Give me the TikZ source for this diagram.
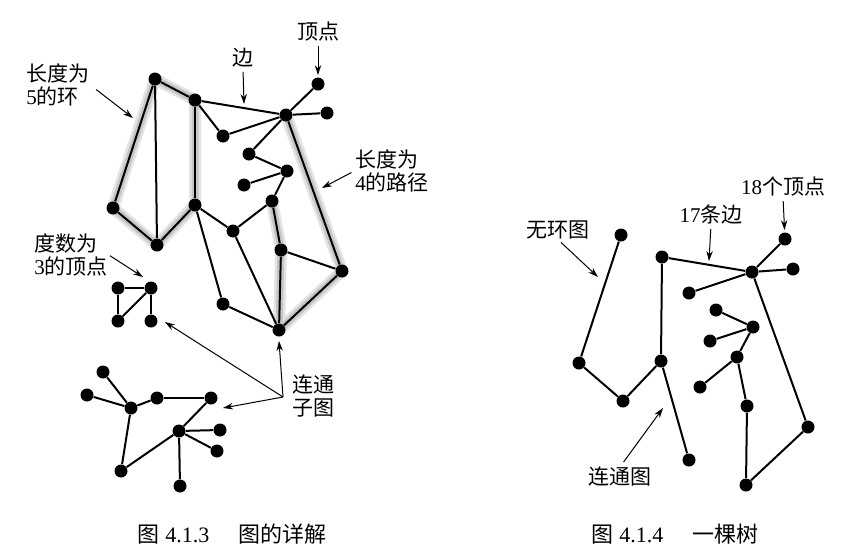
\documentclass[tikz,border=0pt]{standalone}
\usepackage{fontspec}
\setmainfont{Liberation Serif}
\newfontfamily\cjk{Noto Sans CJK SC}
\usetikzlibrary{arrows.meta,positioning,backgrounds}

\begin{document}
\begin{tikzpicture}[x=0.5pt, y=-0.5pt,
  vtx/.style={circle, fill=black, inner sep=0pt, minimum size=6.5pt},
  edge/.style={line width=1pt, black},
  glow/.style={line width=6pt, gray!22, line cap=round, line join=round},
  glowin/.style={line width=3.5pt, gray!45, line cap=round, line join=round},
  lbl/.style={align=left, inner sep=0pt, font=\fontsize{10.5}{11.5}\selectfont},
  arr/.style={-{Stealth[length=5pt, width=3.2pt]}, line width=0.5pt}
]
  \useasboundingbox (0,0) rectangle (858,559);

  \node[vtx] (g1) at (155,79) {};
  \node[vtx] (g2) at (195,100) {};
  \node[vtx] (g3) at (286,115) {};
  \node[vtx] (g4) at (318,84) {};
  \node[vtx] (g5) at (327,113) {};
  \node[vtx] (g6) at (223,136) {};
  \node[vtx] (g7) at (249,154) {};
  \node[vtx] (g8) at (287,171) {};
  \node[vtx] (g9) at (244,185) {};
  \node[vtx] (g10) at (113,208) {};
  \node[vtx] (g11) at (157,245) {};
  \node[vtx] (g12) at (195,205) {};
  \node[vtx] (g13) at (233,231) {};
  \node[vtx] (g14) at (272,201) {};
  \node[vtx] (g15) at (281,250) {};
  \node[vtx] (g16) at (342,271) {};
  \node[vtx] (g17) at (223,304) {};
  \node[vtx] (g18) at (279,330) {};

  \begin{scope}[on background layer]
    \draw[glow] (g1.center) -- (g2.center) -- (g12.center) -- (g11.center) -- (g10.center) -- cycle;
    \draw[glow] (g3.center) -- (g16.center) -- (g18.center) -- (g15.center) -- (g14.center);
    \draw[glowin] (g1.center) -- (g2.center) -- (g12.center) -- (g11.center) -- (g10.center) -- cycle;
    \draw[glowin] (g3.center) -- (g16.center) -- (g18.center) -- (g15.center) -- (g14.center);
  \end{scope}

  \draw[edge] (g1) -- (g2);
  \draw[edge] (g1) -- (g10);
  \draw[edge] (g1) -- (g11);
  \draw[edge] (g10) -- (g11);
  \draw[edge] (g11) -- (g12);
  \draw[edge] (g12) -- (g2);
  \draw[edge] (g2) -- (g3);
  \draw[edge] (g2) -- (g6);
  \draw[edge] (g6) -- (g3);
  \draw[edge] (g3) -- (g4);
  \draw[edge] (g3) -- (g5);
  \draw[edge] (g3) -- (g7);
  \draw[edge] (g7) -- (g8);
  \draw[edge] (g8) -- (g9);
  \draw[edge] (g8) -- (g14);
  \draw[edge] (g14) -- (g15);
  \draw[edge] (g15) -- (g18);
  \draw[edge] (g15) -- (g16);
  \draw[edge] (g3) -- (g16);
  \draw[edge] (g16) -- (g18);
  \draw[edge] (g12) -- (g13);
  \draw[edge] (g13) -- (g14);
  \draw[edge] (g12) -- (g17);
  \draw[edge] (g17) -- (g18);
  \draw[edge] (g13) -- (g18);

  \node[vtx] (t1) at (118,288) {};
  \node[vtx] (t2) at (151,288) {};
  \node[vtx] (t3) at (118,321) {};
  \node[vtx] (t4) at (151,321) {};
  \draw[edge] (t1) -- (t2);
  \draw[edge] (t1) -- (t3);
  \draw[edge] (t3) -- (t2);
  \draw[edge] (t2) -- (t4);

  \node[vtx] (s1) at (103,372) {};
  \node[vtx] (s2) at (87,395) {};
  \node[vtx] (s3) at (131,408) {};
  \node[vtx] (s4) at (157,398) {};
  \node[vtx] (s5) at (211,398) {};
  \node[vtx] (s6) at (179,431) {};
  \node[vtx] (s7) at (220,430) {};
  \node[vtx] (s8) at (217,451) {};
  \node[vtx] (s9) at (121,471) {};
  \node[vtx] (s10) at (180,486) {};
  \draw[edge] (s1) -- (s3);
  \draw[edge] (s2) -- (s3);
  \draw[edge] (s3) -- (s4);
  \draw[edge] (s4) -- (s5);
  \draw[edge] (s5) -- (s6);
  \draw[edge] (s3) -- (s9);
  \draw[edge] (s9) -- (s6);
  \draw[edge] (s6) -- (s7);
  \draw[edge] (s6) -- (s8);
  \draw[edge] (s6) -- (s10);

  \node[vtx] (r1) at (621,235) {};
  \node[vtx] (r2) at (662,257) {};
  \node[vtx] (r3) at (752,272) {};
  \node[vtx] (r4) at (785,239) {};
  \node[vtx] (r5) at (793,269) {};
  \node[vtx] (r6) at (689,293) {};
  \node[vtx] (r7) at (716,310) {};
  \node[vtx] (r8) at (753,327) {};
  \node[vtx] (r9) at (710,341) {};
  \node[vtx] (r10) at (737,357) {};
  \node[vtx] (r11) at (579,363) {};
  \node[vtx] (r12) at (661,361) {};
  \node[vtx] (r13) at (700,387) {};
  \node[vtx] (r14) at (623,401) {};
  \node[vtx] (r15) at (747,406) {};
  \node[vtx] (r16) at (808,427) {};
  \node[vtx] (r17) at (689,460) {};
  \node[vtx] (r18) at (746,485) {};
  \draw[edge] (r1) -- (r11);
  \draw[edge] (r11) -- (r14);
  \draw[edge] (r14) -- (r12);
  \draw[edge] (r12) -- (r2);
  \draw[edge] (r12) -- (r17);
  \draw[edge] (r2) -- (r3);
  \draw[edge] (r3) -- (r4);
  \draw[edge] (r3) -- (r5);
  \draw[edge] (r3) -- (r6);
  \draw[edge] (r3) -- (r16);
  \draw[edge] (r16) -- (r18);
  \draw[edge] (r18) -- (r15);
  \draw[edge] (r15) -- (r10);
  \draw[edge] (r10) -- (r13);
  \draw[edge] (r10) -- (r8);
  \draw[edge] (r8) -- (r7);
  \draw[edge] (r8) -- (r9);

  \node[lbl, anchor=north west] (cycle) at (26,63) {{\cjk 长度为}\\5{\cjk 的环}};
  \node[lbl] (edgelbl) at (243,58) {\cjk 边};
  \node[lbl] (vertex) at (318,32) {\cjk 顶点};
  \node[lbl, anchor=north west] (path) at (355,149) {{\cjk 长度为}\\4{\cjk 的路径}};
  \node[lbl, anchor=north west] (degree) at (34,233) {{\cjk 度数为}\\3{\cjk 的顶点}};
  \node[lbl, anchor=north west] (conn) at (292,374) {{\cjk 连通}\\{\cjk 子图}};
  \coordinate (tipcycle) at (133,118);
  \coordinate (tipedge) at (244,104);
  \coordinate (tippath) at (322,188);
  \coordinate (tipdeg) at (143,277);
  \coordinate (hub) at (283,397);
  \coordinate (tiptri) at (165,322);
  \coordinate (tiptree) at (223,408);
  \draw[arr, shorten <=4pt] (cycle.east) -- (tipcycle);
  \draw[arr, shorten <=2pt] (edgelbl.south) -- (tipedge);
  \draw[arr, shorten <=2pt, shorten >=1pt] (vertex.south) -- (g4);
  \draw[arr, shorten <=2pt] (path.west) -- (tippath);
  \draw[arr, shorten <=1pt] (degree.east) -- (tipdeg);
  \draw[arr] (hub) -- ([yshift=-2pt]g18.south);
  \draw[arr] (hub) -- (tiptri);
  \draw[arr] (hub) -- (tiptree);

  \node[lbl] (acyclic) at (558,230) {\cjk 无环图};
  \node[lbl] (edges17) at (711,215) {17{\cjk 条边}};
  \node[lbl] (verts18) at (783,187) {18{\cjk 个顶点}};
  \node[lbl] (conngraph) at (620,477) {\cjk 连通图};
  \coordinate (tipacyc) at (598,277);
  \coordinate (tipedges) at (709,261);
  \coordinate (tipconn) at (663,408);
  \draw[arr, shorten <=2pt] (acyclic.south) -- (tipacyc);
  \draw[arr, shorten <=2pt] (edges17.south) -- (tipedges);
  \draw[arr, shorten <=2pt, shorten >=1pt] (verts18.south) -- (r4);
  \draw[arr, shorten <=3pt] (conngraph.north) -- (tipconn);

  \node[lbl, font=\fontsize{11}{13}\selectfont] (cap1) at (232,534) {{\cjk 图} 4.1.3\hspace{1.3em}{\cjk 图的详解}};
  \node[lbl, font=\fontsize{11}{13}\selectfont] (cap2) at (675,534) {{\cjk 图} 4.1.4\hspace{1.3em}{\cjk 一棵树}};
\end{tikzpicture}
\end{document}
